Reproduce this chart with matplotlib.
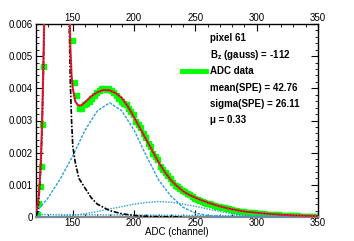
import numpy as np
import matplotlib
matplotlib.use("Agg")
import matplotlib.pyplot as plt
from matplotlib.ticker import MultipleLocator, FuncFormatter

plt.rcParams['font.family'] = ['Liberation Sans', 'DejaVu Sans']
plt.rcParams['mathtext.fontset'] = 'custom'
plt.rcParams['mathtext.rm'] = 'Liberation Sans'
plt.rcParams['mathtext.bf'] = 'Liberation Sans:bold'

# ADC data
data_x = [121, 122, 123, 124, 125, 126] + list(range(149, 350, 2))
data_y = [0.0001, 0.00045, 0.00095, 0.0016, 0.0029, 0.0047,
          0.0055, 0.0042, 0.0038, 0.0034, 0.0034, 0.0035, 0.00355, 0.0036,
          0.0037, 0.0038, 0.0039, 0.00395, 0.004, 0.004, 0.00398, 0.004,
          0.00395, 0.0039, 0.0038, 0.0037, 0.0036, 0.00355, 0.0035, 0.0034,
          0.0033, 0.0032, 0.0030, 0.0029, 0.0028, 0.0026, 0.0025, 0.0023,
          0.0022, 0.002, 0.0019, 0.0018, 0.0016, 0.0015, 0.0014, 0.0013,
          0.0012, 0.0011, 0.001, 0.00095, 0.0009, 0.00085, 0.0008, 0.00075,
          0.0007, 0.00065, 0.0006, 0.00057, 0.00054, 0.0005, 0.00048, 0.00045,
          0.00043, 0.0004, 0.00038, 0.00035, 0.00033, 0.00031, 0.0003, 0.00028,
          0.00027, 0.00025, 0.00023, 0.00022, 0.0002, 0.00019, 0.00018, 0.00017,
          0.00016, 0.00015, 0.00014, 0.00013, 0.00012, 0.00011, 0.00011, 0.0001,
          0.0001, 0.00009, 0.00009, 0.00008, 0.00008, 0.00007, 0.00007, 0.00006,
          0.00006, 0.00006, 0.00005, 0.00005, 0.00005, 0.00004, 0.00004, 0.00004,
          0.00004, 0.00003, 0.00003, 0.00003, 0.00003]

# total fit
fit_x = [120, 121, 122, 123, 124, 125, 126, 127, 128, 146, 147, 148, 149, 150,
         152, 154, 156, 158, 160, 165, 170, 175, 180, 185, 190, 195, 200, 205,
         210, 215, 220, 225, 230, 235, 240, 245, 250, 255, 260, 270, 280, 290,
         300, 310, 320, 330, 340, 350]
fit_y = [0.0002, 0.0003, 0.0006, 0.0011, 0.0018, 0.003, 0.0047, 0.0068, 0.01,
         0.01, 0.0072, 0.0053, 0.0044, 0.004, 0.0036, 0.00348, 0.00346, 0.0035,
         0.00357, 0.00375, 0.00388, 0.00395, 0.00394, 0.00385, 0.0037, 0.00343,
         0.0031, 0.00275, 0.0024, 0.00205, 0.0017, 0.0014, 0.00115, 0.00096,
         0.0008, 0.00069, 0.0006, 0.00052, 0.00045, 0.00033, 0.00024, 0.00017,
         0.00013, 0.0001, 0.00007, 0.00005, 0.00004, 0.00003]

# pedestal component
ped_x = [120, 121, 122, 123, 124, 125, 126, 127, 128, 146, 147, 148, 149, 150,
         152, 155, 160, 165, 170, 175, 180, 190, 200, 210, 220, 240]
ped_y = [0.00005, 0.0001, 0.0004, 0.0009, 0.0016, 0.0028, 0.0045, 0.0068, 0.01,
         0.01, 0.0062, 0.0042, 0.003, 0.0022, 0.0017, 0.0012, 0.0009, 0.0006,
         0.0004, 0.0003, 0.0002, 0.0001, 0.00005, 0.00002, 0.00001, 0.0]

# 1 p.e. component
spe_x = [120, 130, 140, 150, 160, 170, 180, 190, 200, 210, 220, 230, 240, 250,
         260, 270, 280, 300, 350]
spe_y = [0.00015, 0.0006, 0.0012, 0.0019, 0.0027, 0.0033, 0.00355, 0.0033,
         0.0027, 0.0019, 0.00115, 0.00065, 0.0003, 0.00012, 0.00005, 0.00002,
         0.0, 0.0, 0.0]

# 2 p.e. component
dpe_x = [120, 130, 150, 160, 170, 180, 190, 200, 210, 220, 230, 240, 250, 260,
         270, 280, 290, 300, 320, 350]
dpe_y = [0.0, 0.00001, 0.00005, 0.0001, 0.00017, 0.00025, 0.00032, 0.0004,
         0.00045, 0.00048, 0.00046, 0.0004, 0.00033, 0.00025, 0.00017, 0.0001,
         0.00006, 0.00003, 0.00001, 0.0]

# small background component
bkg_x = [120, 160, 200, 240, 280, 320, 350]
bkg_y = [0.00008, 0.00007, 0.00006, 0.00005, 0.00004, 0.00003, 0.00003]

labels = ["pixel 61", r"$\mathbf{B_z}$ (gauss) = -112", "ADC data",
          "mean(SPE) = 42.76", "sigma(SPE) = 26.11", "\u03bc = 0.33"]

fig = plt.figure(figsize=(3.54, 2.41), dpi=100)
ax = fig.add_axes([0.1017, 0.0996, 0.7966, 0.8008])

lblue = '#2a9fd6'
ax.plot(data_x, data_y, 's', color='#00ff00', ms=3.6, mec='#00ff00', zorder=2)
ax.plot(bkg_x, bkg_y, color=lblue, lw=1.0, ls=(0, (1, 1)), zorder=3)
ax.plot(dpe_x, dpe_y, color=lblue, lw=1.0, ls=(0, (1, 1)), zorder=3)
ax.plot(spe_x, spe_y, color=lblue, lw=1.0, ls=(0, (2, 1)), zorder=3)
ax.plot(ped_x, ped_y, color='black', lw=1.2, ls=(0, (3, 1, 1, 1)), zorder=3)
ax.plot(fit_x, fit_y, color='#ff1a1a', lw=1.5, zorder=4)
ax.plot(fit_x, fit_y, color='#1a1aa0', lw=0.7, ls=(0, (1, 2)), zorder=5)

ax.set_xlim(120, 350)
ax.set_ylim(0, 0.006)

ax.xaxis.set_major_locator(MultipleLocator(50))
ax.xaxis.set_minor_locator(MultipleLocator(10))
ax.yaxis.set_major_locator(MultipleLocator(0.001))
ax.yaxis.set_minor_locator(MultipleLocator(0.0002))
ax.yaxis.set_major_formatter(FuncFormatter(lambda v, p: '0' if abs(v) < 1e-9 else '%.3f' % v))

ax.tick_params(which='both', direction='in', top=True, right=True,
               labeltop=True, labelbottom=True, labelsize=7, pad=2)
ax.tick_params(axis='x', which='major', pad=1)
ax.tick_params(which='major', length=5, width=0.8)
ax.tick_params(which='minor', length=2.5, width=0.6)

for s in ['left', 'right', 'top']:
    ax.spines[s].set_linewidth(1.0)
ax.spines['bottom'].set_color('#888888')
ax.spines['bottom'].set_linewidth(1.6)

ax.set_xlabel("ADC (channel)", fontsize=7, labelpad=-1)

ys = [0.927, 0.839, 0.756, 0.668, 0.585, 0.503]
for lab, yy in zip(labels, ys):
    ax.text(0.617, yy, lab, transform=ax.transAxes, fontsize=7,
            fontweight='bold', va='center', ha='left')
ax.plot([0.518, 0.603], [0.756, 0.756], transform=ax.transAxes,
        color='#00ff00', lw=3.5, clip_on=False)

fig.savefig("out.png", dpi=100)
